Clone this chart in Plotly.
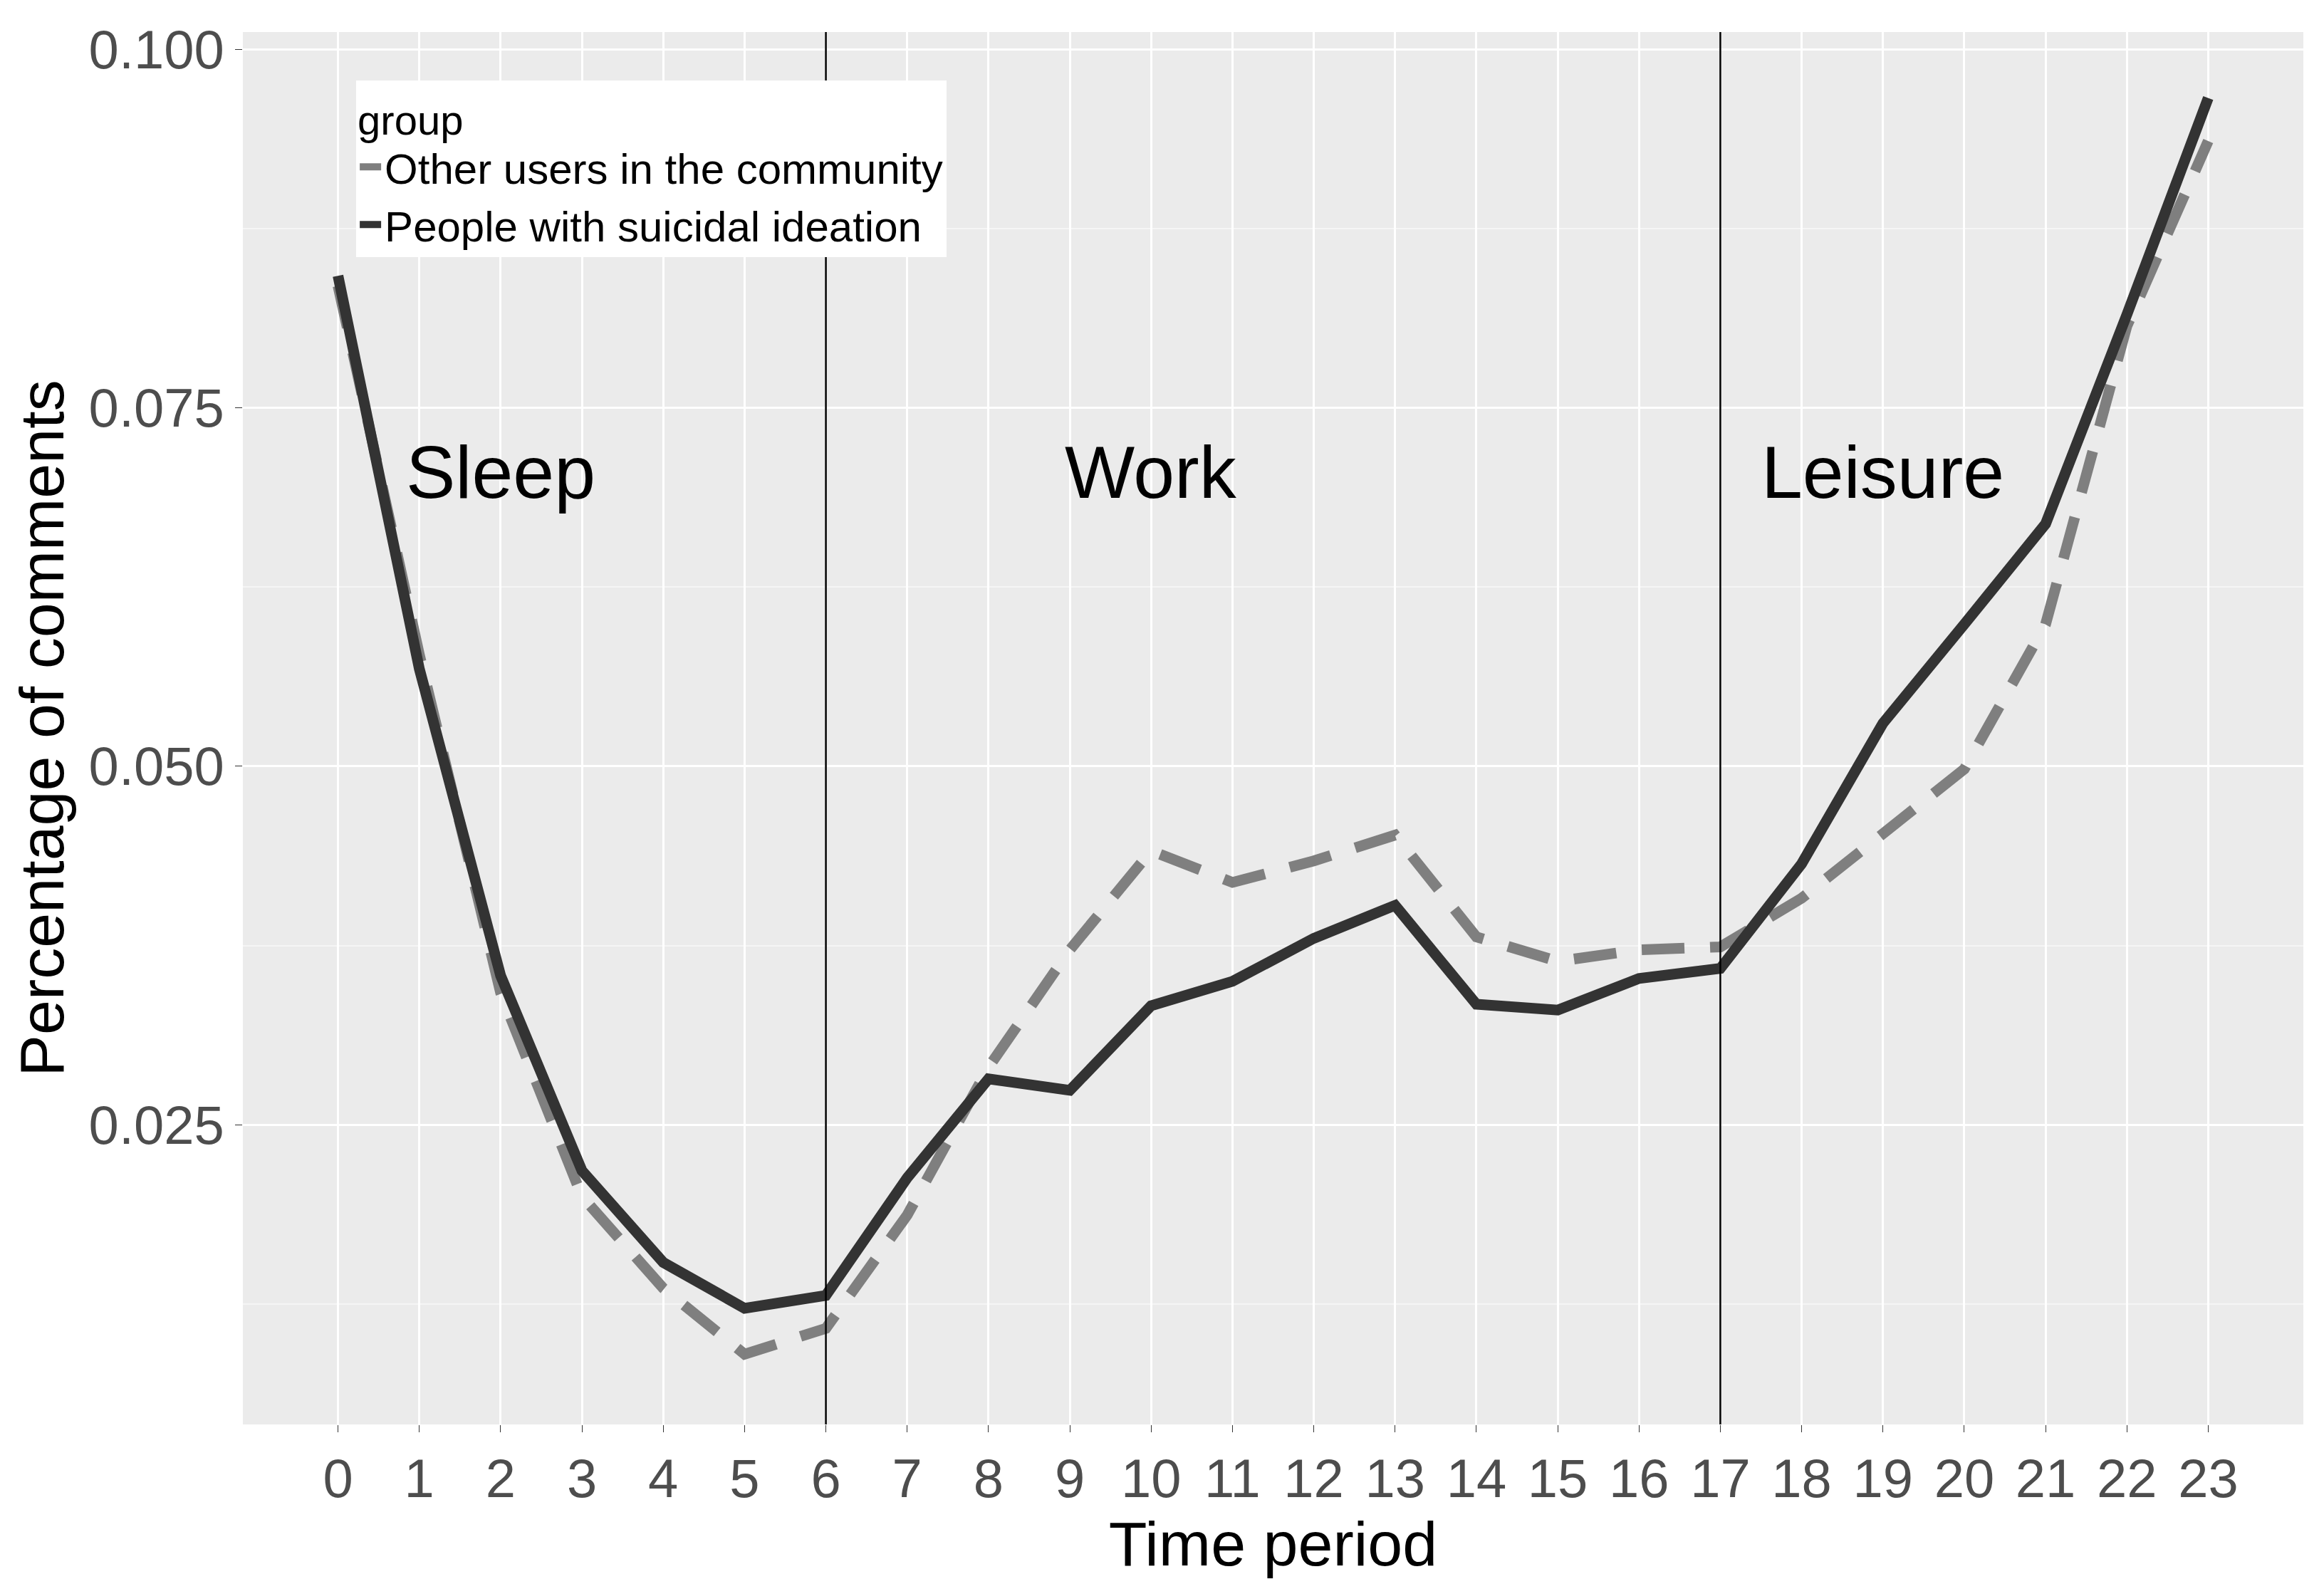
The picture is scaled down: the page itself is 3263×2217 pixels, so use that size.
import plotly.graph_objects as go

hours = list(range(24))
tick_labels = [str(h) for h in hours]
suicidal = [0.0842, 0.0568, 0.0354, 0.0218, 0.0154, 0.0122, 0.0131, 0.0213, 0.0282, 0.0274,
            0.0333, 0.0350, 0.0380, 0.0403, 0.0334, 0.0330, 0.0352, 0.0359, 0.0432, 0.0530,
            0.0599, 0.0669, 0.0815, 0.0966]
others = [0.0835, 0.0578, 0.0342, 0.0200, 0.0136, 0.0090, 0.0108, 0.0187, 0.0290, 0.0372,
          0.0441, 0.0419, 0.0434, 0.0452, 0.0381, 0.0364, 0.0372, 0.0374, 0.0408, 0.0452,
          0.0498, 0.0599, 0.0807, 0.0936]
periods = ["Sleep", "Work", "Leisure"]
period_x = [2.0, 10.0, 19.0]
period_y = [0.0705, 0.0705, 0.0705]
boundaries = [6, 17]

fig = go.Figure()
fig.add_trace(go.Scatter(x=hours, y=others, mode="lines", name="Other users in the community",
                         line=dict(color="#7f7f7f", width=15, dash="60px,36px")))
fig.add_trace(go.Scatter(x=hours, y=suicidal, mode="lines", name="People with suicidal ideation",
                         line=dict(color="#333333", width=15)))
for b in boundaries:
    fig.add_vline(x=b, line=dict(color="black", width=2.5))
for t, x, y in zip(periods, period_x, period_y):
    fig.add_annotation(x=x, y=y, text=t, showarrow=False,
                       font=dict(size=104, color="black"))

fig.update_layout(
    width=3263, height=2217,
    margin=dict(l=333, r=37, t=37, b=225),
    paper_bgcolor="white", plot_bgcolor="#EBEBEB",
    font=dict(family="Liberation Sans, Arial", color="black"),
    legend=dict(x=0.055, y=0.965, xanchor="left", yanchor="top", bgcolor="white",
                title=dict(text="group", font=dict(size=58)), font=dict(size=60),
                tracegroupgap=0, itemwidth=30),
    showlegend=True,
)
fig.update_xaxes(range=[-1.17, 24.17], tickvals=hours, ticktext=tick_labels,
                 tickfont=dict(size=76, color="#4d4d4d"), showgrid=True, gridcolor="white",
                 gridwidth=3, zeroline=False, ticks="outside", ticklen=10, tickcolor="#333333",
                 title=dict(text="Time period", font=dict(size=88), standoff=0))
fig.update_yaxes(range=[0.0041, 0.1012], tickvals=[0.025, 0.05, 0.075, 0.1],
                 ticktext=["0.025", "0.050", "0.075", "0.100"],
                 tickfont=dict(size=76, color="#4d4d4d"), showgrid=True, gridcolor="white",
                 gridwidth=3, zeroline=False, ticks="outside", ticklen=10, tickcolor="#333333",
                 minor=dict(tickvals=[0.0125, 0.0375, 0.0625, 0.0875], showgrid=True,
                            gridcolor="#F5F5F5", gridwidth=1.5),
                 title=dict(text="Percentage of comments", font=dict(size=88), standoff=5))
fig.write_html("out.html")
